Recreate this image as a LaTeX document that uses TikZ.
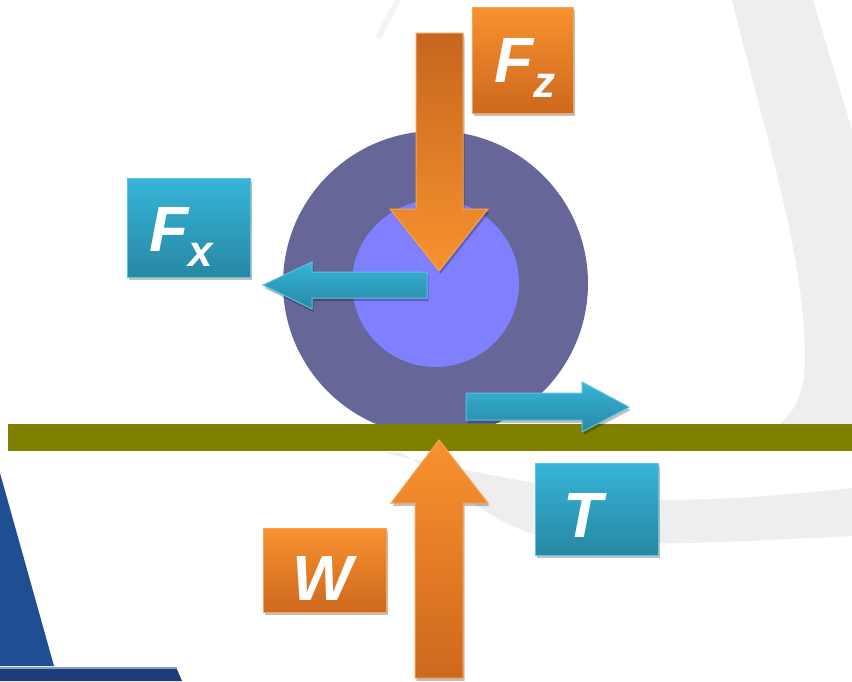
\documentclass[tikz,border=0pt]{standalone}
\usepackage{fontspec}
\setmainfont{Liberation Sans}
\usetikzlibrary{shadows}
\definecolor{wheelout}{HTML}{666699}
\definecolor{wheelin}{HTML}{8080FF}
\definecolor{groundc}{HTML}{808000}
\definecolor{swoosh}{HTML}{EEEEEE}
\definecolor{streak}{HTML}{F4F4F4}
\definecolor{navy1}{HTML}{1F4E93}
\definecolor{navy2}{HTML}{1C3C7C}
\definecolor{orTop}{HTML}{F8922F}
\definecolor{orBot}{HTML}{CD681E}
\definecolor{orDark}{HTML}{C6661E}
\definecolor{orEdge}{HTML}{F7A459}
\definecolor{blTop}{HTML}{37B4D8}
\definecolor{blBot}{HTML}{2788A3}
\definecolor{blEdge}{HTML}{5CC3E0}
\tikzset{
  shad/.style={drop shadow={shadow xshift=1.5pt, shadow yshift=-3pt, opacity=0.25, fill=black}},
  orangebox/.style={shad, rectangle, draw=orEdge, line width=1pt, top color=orTop, bottom color=orBot, inner sep=0pt},
  bluebox/.style={shad, rectangle, draw=blEdge, line width=1pt, top color=blTop, bottom color=blBot, inner sep=0pt},
  orangearrow/.style={shad, draw=orEdge, line width=1pt, line join=miter},
  bluearrow/.style={shad, draw=blEdge, line width=1pt, top color=blTop, bottom color=blBot, line join=miter},
  lbl/.style={text=white, inner sep=0pt, font=\fontsize{64}{64}\selectfont\bfseries\itshape}
}
\newcommand{\mysub}[1]{{\fontsize{44}{44}\selectfont\raisebox{-15pt}{#1}}}
\begin{document}
\begin{tikzpicture}[x=1pt,y=-1pt]
\useasboundingbox (0,0) rectangle (852,681);
\fill[white] (0,0) rectangle (852,681);
% background swoosh
\fill[swoosh] (732,0) .. controls (767,140) and (805,260) .. (805,355)
  .. controls (805,395) and (795,410) .. (780,424) -- (852,424) -- (852,130) -- (813,0) -- cycle;
\fill[swoosh] (852,488) .. controls (760,498) and (660,505) .. (600,495)
  .. controls (520,480) and (430,465) .. (383,452) -- (400,452)
  .. controls (450,480) and (490,530) .. (560,540)
  .. controls (650,548) and (760,540) .. (852,536) -- cycle;
\draw[streak, line width=6pt] (398,0) -- (378,38);
% bottom-left navy shape
\fill[navy1] (0,473) -- (54,666) -- (0,666) -- cycle;
\fill[navy2] (0,667) -- (176,667) -- (182,681) -- (0,681) -- cycle;
\draw[navy2!50!white, line width=1.5pt] (0,668) -- (177,668);
% wheel
\node[circle, fill=wheelout, minimum size=305pt, inner sep=0pt] (outer) at (435.5,283.5) {};
\node[circle, fill=wheelin, minimum size=167pt, inner sep=0pt] (inner) at (435.5,283.5) {};
% ground
\node[rectangle, fill=groundc, minimum width=844pt, minimum height=27pt, inner sep=0pt, anchor=north west] (ground) at (8,424) {};
% Fz arrow (down)
\path[orangearrow, top color=orDark, bottom color=orTop]
  (416,33) -- (463,33) -- (463,209) -- (488,209) -- (439,271) -- (390,209) -- (416,209) -- cycle;
% W arrow (up)
\path[orangearrow, top color=orTop, bottom color=orBot]
  (439,440) -- (488,503) -- (463,503) -- (463,678) -- (415,678) -- (415,503) -- (391,503) -- cycle;
% Fx arrow (left)
\path[bluearrow]
  (427,272) -- (312,272) -- (312,262) -- (263,285) -- (312,309) -- (312,298) -- (427,298) -- cycle;
% T arrow (right)
\path[bluearrow]
  (466,393) -- (582,393) -- (582,382) -- (629,407) -- (582,432) -- (582,420) -- (466,420) -- cycle;
% label boxes
\node[orangebox, minimum width=101pt, minimum height=106pt] (fzbox) at (522.5,60) {};
\node[bluebox, minimum width=123pt, minimum height=99pt] (fxbox) at (188.5,227.5) {};
\node[bluebox, minimum width=123pt, minimum height=92pt] (tbox) at (596.5,509) {};
\node[orangebox, minimum width=123pt, minimum height=84pt] (wbox) at (324.5,570) {};
% labels
\node[lbl, anchor=base west] (fzlbl) at (494,82) {F\mysub{z}};
\node[lbl, anchor=base west] (fxlbl) at (149,251) {F\mysub{x}};
\node[lbl, anchor=base] (tlbl) at (583,537) {T};
\node[lbl, anchor=base] (wlbl) at (323,600) {W};
\end{tikzpicture}
\end{document}
